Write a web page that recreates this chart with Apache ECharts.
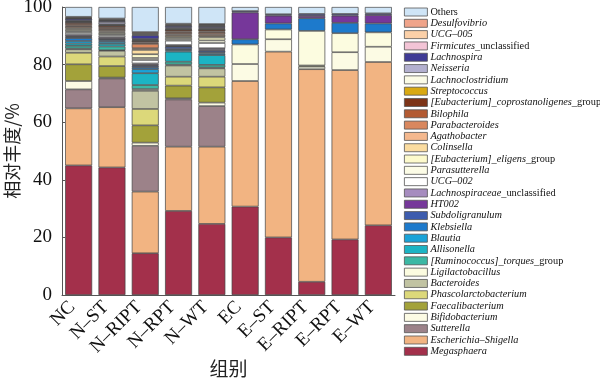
<!DOCTYPE html>
<html><head><meta charset="utf-8">
<script src="https://cdn.jsdelivr.net/npm/echarts@6/dist/echarts.min.js"></script>
<style>html,body{margin:0;padding:0;background:#fff}#c{width:600px;height:379px}</style>
</head><body><div id="c"></div>
<script>
const groups = ['NC','N–ST','N–RIPT','N–RPT','N–WT','EC','E–ST','E–RIPT','E–RPT','E–WT'];
const yTicks = [0,20,40,60,80,100];
const _ = null;
// genus values (%), per group, bottom of stack first
const megasphaera       = [45.0,44.3,14.5,29.2,24.7,30.7,20.0, 4.6,19.3,24.2];
const escherichia       = [19.8,20.9,21.4,22.3,26.8,43.6,64.5,73.8,58.8,56.7];
const sutterella        = [ 6.6,10.0,15.9,16.4,14.1,_,_,_,_,_];
const bifidobacterium   = [ 2.9, 0.3, 1.1, 0.4, 1.2, 5.9, 4.3, 0.9, 6.2, 5.3];
const faecalibacterium  = [ 5.8, 4.0, 6.0, 4.4, 5.3,_,_,0.4,_,_];
const phascolarcto      = [ 4.0, 3.3, 5.7, 3.1, 3.7,_,_,_,_,_];
const bacteroides       = [ 1.2, 2.0, 6.3, 3.9, 2.9,_,_,_,_,_];
const ligilactobacillus = [ 0.3, 0.2, 0.6, 0.3, 0.3, 6.8, 3.4,12.0, 6.6, 5.0];
const torques           = [ 0.9, 1.3, 1.4, 1.0, 0.9,_,_,_,_,_];
const allisonella       = [ 0.8, 0.9, 4.1, 3.5, 3.4,_,_,_,_,_];
const blautia           = [ 0.9, 0.7, 1.4, 0.5, 0.5,_,_,_,_,_];
const klebsiella        = [ 1.0, 0.6, 0.7, 0.4, 0.5, 1.8, 2.1, 4.4, 3.6, 3.1];
const subdoligranulum   = [ 0.4, 0.4, 0.5, 0.8, 0.6,_,_,_,_,_];
const ht002             = [ 0.2, 0.1, 0.3, 0.2, 0.3, 9.3, 2.7, 0.8, 2.5, 2.9];
const lachnoUncl        = [ 0.5, 0.5, 0.5, 0.4, 0.5,_,_,_,_,_];
const ucg002            = [ 0.7, 0.6, 1.2, 1.5, 1.8,_,_,_,_,_];
const parasutterella    = [ 0.6, 0.5, 0.7, 0.6, 0.9,_,_,_,_,_];
const eligens           = [ 0.5, 0.5, 1.3, 0.6, 1.0,_,_,_,_,_];
const colinsella        = [ 0.5, 0.4, 1.5, 0.5, 0.5,_,_,_,_,_];
const agathobacter      = [ 0.5, 0.5, 0.6, 0.5, 0.5,_,_,_,_,_];
const parabacteroides   = [ 0.4, 0.4, 1.5, 0.5, 0.6,_,_,_,_,_];
const bilophila         = [ 0.6, 0.6, 0.5, 0.5, 0.5,_,_,_,_,_];
const coprostanoligenes = [ 0.6, 0.6, 0.5, 0.6, 0.6,_,_,_,_,_];
const streptococcus     = [ 0.1, 0.1, 0.1, 0.1, 0.1,_,_,_,_,_];
const lachnoclostridium = [ 0.3, 0.3, 0.3, 0.3, 0.3,_,_,_,_,_];
const neisseria         = [ 0.2, 0.8, 0.3, 0.3, 0.3,_,_,_,_,_];
const lachnospira       = [ 0.6, 0.4, 1.3, 0.6, 0.5, 0.5, 0.5, 0.7, 0.6, 0.6];
const firmicutesUncl    = [ 0.2, 0.2, 0.3, 0.2, 0.2,_,_,_,_,_];
const ucg005            = [ 0.2, 0.3, 0.4, 0.3, 0.3,_,_,_,_,_];
const desulfovibrio     = [ 0.3, 0.3, 0.4, 0.3, 0.3,_,_,_,_,_];
const others            = [ 3.4, 4.0, 8.7, 5.8, 5.9, 1.4, 2.5, 2.4, 2.4, 2.2];

const seriesNames = ['Megasphaera','Escherichia–Shigella','Sutterella','Bifidobacterium','Faecalibacterium',
 'Phascolarctobacterium','Bacteroides','Ligilactobacillus','[Ruminococcus]_torques_group','Allisonella',
 'Blautia','Klebsiella','Subdoligranulum','HT002','Lachnospiraceae_unclassified','UCG–002','Parasutterella',
 '[Eubacterium]_eligens_group','Colinsella','Agathobacter','Parabacteroides','Bilophila',
 '[Eubacterium]_coprostanoligenes_group','Streptococcus','Lachnoclostridium','Neisseria','Lachnospira',
 'Firmicutes_unclassified','UCG–005','Desulfovibrio','Others'];
const seriesData = [megasphaera,escherichia,sutterella,bifidobacterium,faecalibacterium,phascolarcto,bacteroides,
 ligilactobacillus,torques,allisonella,blautia,klebsiella,subdoligranulum,ht002,lachnoUncl,ucg002,parasutterella,
 eligens,colinsella,agathobacter,parabacteroides,bilophila,coprostanoligenes,streptococcus,lachnoclostridium,
 neisseria,lachnospira,firmicutesUncl,ucg005,desulfovibrio,others];
const colors = ['#a3304b','#f2b482','#9c8289','#fcfbe4','#a3a23a','#dcd87a','#c1c3a2','#fcfce0','#3cb8a4','#1cb4c4',
 '#1aa3d8','#1d7acc','#3d5cae','#76379a','#a68cbf','#ffffff','#fcfce6','#fdfacc','#fbdca0','#f4b88e','#d9875e',
 '#b35a32','#7d3418','#d9a912','#fbfbe6','#b3b0cf','#3f3b96','#f3c4d6','#fbd0a8','#f0a48a','#cfe5f7'];

const SERIF = '"Liberation Serif","Times New Roman",serif';
const CJK = '"Noto Sans CJK SC",sans-serif';
const chart = echarts.init(document.getElementById('c'));

function legendFmt(name){
  if (name === 'Others') return '{n|Others}';
  let m = name.match(/^(.*)(_unclassified|_group)$/);
  if (m) return '{i|' + m[1] + '}{n|' + m[2] + '}';
  return '{i|' + name + '}';
}
const LFS = 10.3;

chart.setOption({
  animation:false,
  color: colors,
  grid:{left:62,right:205,top:7,bottom:84,containLabel:false,outerBoundsMode:'none'},
  legend:{
    orient:'vertical', left:404, top:7, padding:0,
    data: seriesNames.slice().reverse(),
    icon:'rect', itemWidth:23, itemHeight:8, itemGap:1.31,
    itemStyle:{borderColor:'#555',borderWidth:0.8},
    formatter: legendFmt,
    textStyle:{
      fontFamily:SERIF, fontSize:LFS, color:'#111', lineHeight:8, height:8, padding:[0,0,0,-2],
      rich:{
        i:{fontFamily:SERIF,fontSize:LFS,fontStyle:'italic',color:'#111',lineHeight:8,height:8},
        n:{fontFamily:SERIF,fontSize:LFS,fontStyle:'normal',color:'#111',lineHeight:8,height:8}
      }
    }
  },
  xAxis:{
    type:'category', data:groups, z:10,
    name:'组别', nameLocation:'middle', nameGap:64, nameMoveOverlap:false,
    nameTextStyle:{fontFamily:CJK,fontSize:19,color:'#222'},
    axisLine:{lineStyle:{color:'#555',width:1}},
    axisTick:{alignWithLabel:true,inside:true,length:3,lineStyle:{color:'#222'}},
    axisLabel:{rotate:45,fontFamily:SERIF,fontSize:19,color:'#111',margin:3,padding:[0,9,0,0],interval:0}
  },
  yAxis:{
    type:'value', min:yTicks[0], max:yTicks[yTicks.length-1], interval:20,
    name:'相对丰度/%', nameLocation:'middle', nameGap:41, nameMoveOverlap:false,
    nameTextStyle:{fontFamily:CJK,fontSize:18,color:'#222'},
    axisLine:{show:true,lineStyle:{color:'#555',width:1}},
    axisTick:{show:true,inside:true,length:3,lineStyle:{color:'#555'}},
    splitLine:{show:false},
    axisLabel:{fontFamily:SERIF,fontSize:19,color:'#111',margin:10}
  },
  series: seriesNames.map((n,k)=>({
    name:n, type:'bar', stack:'all', data:seriesData[k],
    barCategoryGap:'19%',
    itemStyle:{color:colors[k],borderColor:'#444',borderWidth:0.7}
  }))
});
</script></body></html>
